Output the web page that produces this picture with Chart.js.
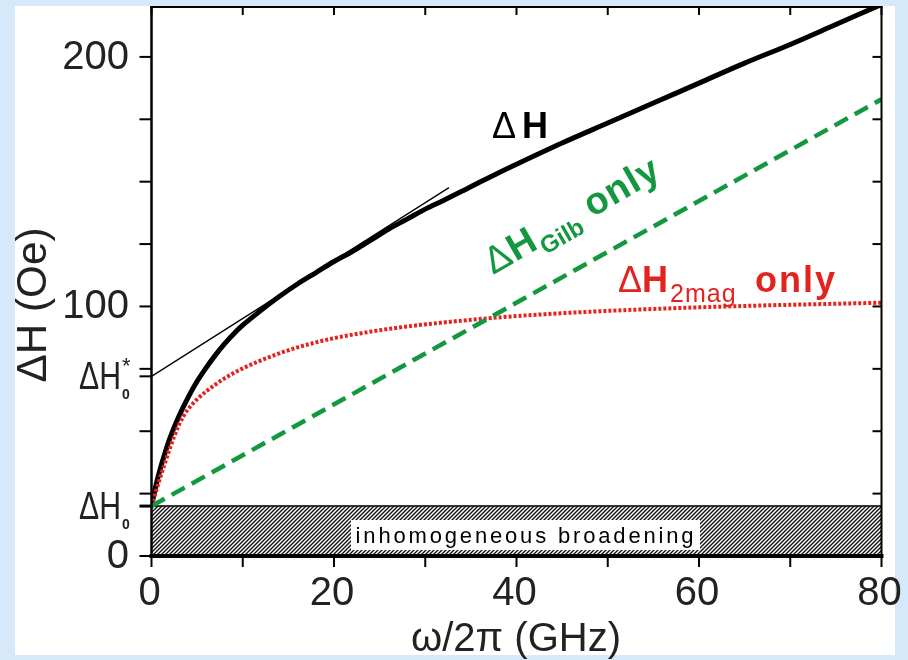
<!DOCTYPE html>
<html>
<head>
<meta charset="utf-8">
<script src="https://cdn.jsdelivr.net/npm/chart.js@4.4.0/dist/chart.umd.min.js"></script>
<style>
  html, body { margin: 0; padding: 0; background: #d5e9fb; }
  #wrap { width: 908px; height: 660px; }
</style>
</head>
<body>
<div id="wrap"><canvas id="lw" width="908" height="660"></canvas></div>
<script>
// linewidth vs. frequency: total, two-magnon only, Gilbert only
const freqTotal = [0, 0.5, 1, 1.5, 2, 3, 4, 5, 6, 7, 8, 9, 10, 11, 12, 14, 16, 18, 20, 22, 24, 26, 28, 30, 32, 35, 38, 40, 45, 50, 55, 60, 65, 70, 75, 80];
const dHTotal = [20, 28.5, 35.5, 41.5, 47, 56, 63.5, 70, 75.5, 80.5, 85, 89, 92.5, 95.5, 98.5, 104, 109, 113.5, 118, 122, 126.5, 131, 135, 139, 142.5, 148, 153.5, 157, 165.5, 173.5, 181.5, 189.5, 197.5, 205, 213, 221];
const freq2mag = [0, 0.5, 1, 1.5, 2, 2.5, 3, 3.5, 4, 5, 6, 7, 8, 9, 10, 12, 14, 16, 18, 20, 23, 27, 32, 38, 45, 55, 65, 80];
const dH2mag = [20, 26, 32, 37.5, 43, 48, 52.5, 56, 58.8, 62.8, 66, 68.7, 71.2, 73.3, 75.2, 78.4, 81.2, 83.6, 85.6, 87.3, 89.3, 91.5, 93.6, 95.6, 97.3, 99, 100.2, 101.5];
const freqGilb = [0, 80];
const dHGilb = [20, 183];
// high-frequency asymptote, extrapolated back to zero
const freqTangent = [0, 32.6];
const dHTangent = [72, 147.6];
// inhomogeneous part
const freqInhom = [0, 80];
const dH0 = 20;
const dH0star = 72;

const xTickMarks = [0, 10, 20, 30, 40, 50, 60, 70, 80];
const xTickLabels = [0, 20, 40, 60, 80];
const yTickMarks = [0, 25, 50, 75, 100, 125, 150, 175, 200];
const yTickLabels = [0, 100, 200];

const FONT = '"Liberation Sans", Arial, sans-serif';
const BLUE = '#d5e9fb';
const RED = '#e3241e';
const GREEN = '#14983f';

function pts(xs, ys) {
  return xs.map((x, i) => ({ x: x, y: ys[i] }));
}

// diagonal hatching for the inhomogeneous band
function hatch() {
  const c = document.createElement('canvas');
  c.width = 4; c.height = 4;
  const g = c.getContext('2d');
  g.fillStyle = '#fff';
  g.fillRect(0, 0, 4, 4);
  g.strokeStyle = '#111';
  g.lineWidth = 1.4;
  g.beginPath();
  g.moveTo(-1, 5); g.lineTo(5, -1);
  g.moveTo(-1, 1); g.lineTo(1, -1);
  g.moveTo(3, 5); g.lineTo(5, 3);
  g.stroke();
  return g.createPattern(c, 'repeat');
}

function drawParts(ctx, x, y, angle, color, parts) {
  ctx.save();
  ctx.translate(x, y);
  ctx.rotate(angle);
  ctx.fillStyle = color;
  ctx.textBaseline = 'alphabetic';
  ctx.textAlign = 'left';
  let cx = 0;
  for (const p of parts) {
    ctx.font = p.font;
    ctx.letterSpacing = (p.ls || 0) + 'px';
    if (p.at !== undefined) cx = p.at;
    cx += p.gap || 0;
    ctx.fillText(p.text, cx, p.dy || 0);
    cx += ctx.measureText(p.text).width;
  }
  ctx.restore();
}

// squeeze text horizontally into a given width
function drawFitted(ctx, text, x, y, width, font, align) {
  ctx.save();
  ctx.font = font;
  const s = width / ctx.measureText(text).width;
  ctx.translate(x, y);
  ctx.scale(s, 1);
  ctx.textAlign = align;
  ctx.fillText(text, 0, 0);
  ctx.restore();
}

function seg(ctx, x1, y1, x2, y2, w) {
  ctx.lineWidth = w;
  ctx.beginPath();
  ctx.moveTo(x1, y1);
  ctx.lineTo(x2, y2);
  ctx.stroke();
}

const panel = {
  id: 'panel',
  beforeDraw(chart) {
    const ctx = chart.ctx;
    ctx.save();
    ctx.fillStyle = BLUE;
    ctx.fillRect(0, 0, 908, 660);
    ctx.fillStyle = '#fff';
    ctx.fillRect(15, 6, 880, 649);
    ctx.restore();
  },
  afterDraw(chart) {
    const ctx = chart.ctx;
    ctx.save();
    ctx.fillStyle = BLUE;
    ctx.fillRect(0, 0, 15, 660);
    ctx.fillRect(895, 0, 13, 660);
    ctx.fillRect(0, 0, 908, 6);
    ctx.fillRect(0, 655, 908, 5);
    ctx.restore();
  }
};

const frame = {
  id: 'frame',
  afterDatasetsDraw(chart) {
    const ctx = chart.ctx;
    const a = chart.chartArea;
    const x = chart.scales.x, y = chart.scales.y;
    ctx.save();
    ctx.strokeStyle = '#000';

    // label box inside the hatched band
    ctx.fillStyle = '#fff';
    ctx.fillRect(351, 520, 349, 30);
    ctx.fillStyle = '#000';
    ctx.font = '22px ' + FONT;
    const txt = 'inhomogeneous broadening';
    const w0 = ctx.measureText(txt).width;
    ctx.letterSpacing = ((338 - w0) / (txt.length - 1)) + 'px';
    ctx.textAlign = 'center';
    ctx.fillText(txt, 526, 543);
    ctx.letterSpacing = '0px';

    ctx.lineCap = 'square';
    seg(ctx, a.left, a.top, a.right, a.top, 2);
    seg(ctx, a.right, a.top, a.right, a.bottom, 2);
    seg(ctx, a.left, a.top, a.left, a.bottom, 2.5);
    seg(ctx, a.left, a.bottom, a.right, a.bottom, 4);
    ctx.lineCap = 'butt';

    for (const v of yTickMarks) {
      const py = y.getPixelForValue(v);
      seg(ctx, a.left - 12, py, a.left, py, 2);
      seg(ctx, a.right - 9, py, a.right, py, 2);
    }
    seg(ctx, a.left - 12, y.getPixelForValue(dH0), a.left, y.getPixelForValue(dH0), 3);
    seg(ctx, a.left - 12, y.getPixelForValue(dH0star), a.left, y.getPixelForValue(dH0star), 2);
    for (const v of xTickMarks) {
      const px = x.getPixelForValue(v);
      seg(ctx, px, a.bottom, px, a.bottom + 11, 2);
      seg(ctx, px, a.top, px, a.top + 8, 2);
    }
    ctx.restore();
  }
};

const labels = {
  id: 'labels',
  afterDraw(chart) {
    const ctx = chart.ctx;
    const x = chart.scales.x, y = chart.scales.y;
    ctx.save();
    ctx.fillStyle = '#222';
    ctx.font = '40px ' + FONT;
    ctx.textBaseline = 'alphabetic';
    ctx.textAlign = 'center';
    for (const v of xTickLabels) {
      ctx.fillText(String(v), x.getPixelForValue(v) - 2, 605);
    }
    ctx.textAlign = 'right';
    ctx.textBaseline = 'middle';
    for (const v of yTickLabels) {
      ctx.fillText(String(v), 129, y.getPixelForValue(v) + 1);
    }

    // ΔH0 and ΔH0* markers on the left axis
    ctx.textBaseline = 'alphabetic';
    for (const v of [dH0, dH0star]) {
      const py = y.getPixelForValue(v);
      drawFitted(ctx, 'ΔH', 79, py + 13, 42, '39px ' + FONT, 'left');
      ctx.font = 'bold 14px ' + FONT;
      ctx.textAlign = 'left';
      ctx.fillText('0', 122, py + 23);
    }
    ctx.font = '22px ' + FONT;
    ctx.fillText('*', 122, y.getPixelForValue(dH0star) - 3);

    // axis titles
    ctx.save();
    ctx.translate(46, 305);
    ctx.rotate(-Math.PI / 2);
    drawFitted(ctx, 'ΔH (Oe)', 0, 0, 155, '42px ' + FONT, 'center');
    ctx.restore();
    ctx.font = '40px ' + FONT;
    ctx.textAlign = 'center';
    ctx.fillText('ω/2π (GHz)', 516, 651);

    // curve labels
    drawParts(ctx, 492, 138, 0, '#000', [
      { text: 'Δ', font: '36px ' + FONT },
      { text: 'H', font: 'bold 36px ' + FONT, at: 30 }
    ]);
    drawParts(ctx, 493, 275, -30 * Math.PI / 180, GREEN, [
      { text: 'Δ', font: '38px ' + FONT },
      { text: 'H', font: 'bold 38px ' + FONT, gap: 1 },
      { text: 'Gilb', font: 'bold 24px ' + FONT, dy: 9, gap: 2 },
      { text: 'only', font: 'bold 38px ' + FONT, gap: 12, ls: 1 }
    ]);
    drawParts(ctx, 618, 292, 0, RED, [
      { text: 'Δ', font: '36px ' + FONT },
      { text: 'H', font: 'bold 36px ' + FONT, at: 24 },
      { text: '2mag', font: '25px ' + FONT, at: 52, dy: 10, ls: 1 },
      { text: 'only', font: 'bold 36px ' + FONT, at: 137, ls: 2 }
    ]);
    ctx.restore();
  }
};

const ctx = document.getElementById('lw').getContext('2d');
new Chart(ctx, {
  type: 'line',
  data: {
    datasets: [
      {
        label: 'ΔH Gilb only',
        data: pts(freqGilb, dHGilb),
        borderColor: GREEN,
        borderWidth: 4.5,
        borderDash: [15, 8],
        pointRadius: 0
      },
      {
        label: 'ΔH 2mag only',
        data: pts(freq2mag, dH2mag),
        borderColor: RED,
        borderWidth: 4,
        borderDash: [3, 2],
        cubicInterpolationMode: 'monotone',
        pointRadius: 0
      },
      {
        label: 'ΔH',
        data: pts(freqTotal, dHTotal),
        borderColor: '#000',
        borderWidth: 5,
        cubicInterpolationMode: 'monotone',
        pointRadius: 0
      },
      {
        label: 'asymptote',
        data: pts(freqTangent, dHTangent),
        borderColor: '#000',
        borderWidth: 1.3,
        pointRadius: 0
      },
      {
        label: 'inhomogeneous',
        data: pts(freqInhom, [dH0, dH0]),
        borderColor: '#000',
        borderWidth: 1.5,
        backgroundColor: hatch(),
        fill: 'origin',
        pointRadius: 0
      }
    ]
  },
  options: {
    responsive: false,
    animation: false,
    layout: { padding: { left: 151.5, top: 7, right: 26.5, bottom: 104 } },
    scales: {
      x: { type: 'linear', min: 0, max: 80, display: false },
      y: { type: 'linear', min: 0, max: 220, display: false }
    },
    plugins: {
      legend: { display: false },
      tooltip: { enabled: false }
    }
  },
  plugins: [panel, frame, labels]
});
</script>
</body>
</html>
